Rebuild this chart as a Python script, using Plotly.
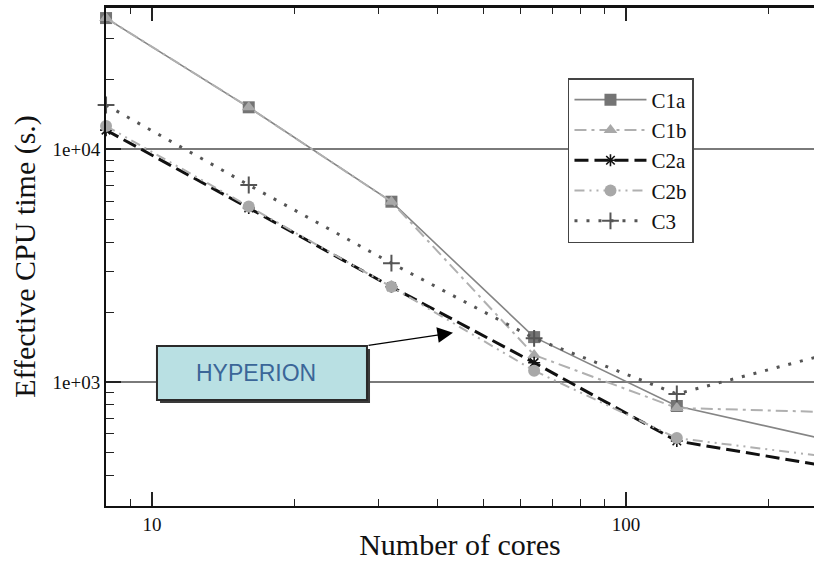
import plotly.graph_objects as go

cores = [8, 16, 32, 64, 128, 256]
series_names = ["C1a", "C1b", "C2a", "C2b", "C3"]
c1a = [36600, 15150, 5960, 1563, 791, 576]
c1b = [36600, 15150, 5960, 1310, 776, 747]
c2a = [12090, 5600, 2570, 1214, 560, 442]
c2b = [12590, 5680, 2570, 1122, 576, 484]
c3 = [15500, 7030, 3245, 1545, 891, 1294]
values = [c1a, c1b, c2a, c2b, c3]

y_major = [1000, 10000]
y_major_text = ["1e+03", "1e+04"]
y_minor = [400, 500, 600, 700, 800, 900, 2000, 3000, 4000, 5000, 6000, 7000, 8000, 9000, 20000, 30000]
x_major = [10, 100]
x_major_text = ["10", "100"]
x_minor = [9, 20, 30, 40, 50, 60, 70, 80, 90, 200]

styles = [
    dict(line=dict(color="#858585", width=1.6, dash="solid"),
         marker=dict(symbol="square", size=12, color="#747474")),
    dict(line=dict(color="#b0b0b0", width=2, dash="12px,5px,3px,5px"),
         marker=dict(symbol="triangle-up", size=12, color="#a8a8a8")),
    dict(line=dict(color="#111111", width=3, dash="14px,6px"),
         marker=dict(symbol="asterisk-open", size=10, color="#111111", line=dict(width=1.6, color="#111111"))),
    dict(line=dict(color="#b0b0b0", width=2, dash="10px,5px,2px,5px,2px,5px"),
         marker=dict(symbol="circle", size=12, color="#a8a8a8")),
    dict(line=dict(color="#555555", width=3, dash="3px,9px"),
         marker=dict(symbol="cross-thin-open", size=12, color="#555555", line=dict(width=2, color="#555555"))),
]

serif = "Liberation Serif"

fig = go.Figure()
for name, vals, st in zip(series_names, values, styles):
    fig.add_trace(go.Scatter(x=cores, y=vals, name=name, mode="lines+markers",
                             line=st["line"], marker=st["marker"], cliponaxis=False))

fig.update_layout(
    width=814, height=561,
    margin=dict(l=106, r=0, t=7, b=55),
    paper_bgcolor="white", plot_bgcolor="white",
    font=dict(family=serif, color="#111111"),
    legend=dict(x=0.6525, y=0.8577, xanchor="left", yanchor="top",
                bgcolor="white", bordercolor="#444444", borderwidth=1.5,
                font=dict(family=serif, size=21, color="#111111"),
                itemwidth=72, tracegroupgap=0),
    showlegend=True,
)

fig.update_xaxes(
    type="log", range=[0.903, 2.3966],
    tickmode="array", tickvals=x_major, ticktext=x_major_text,
    ticks="inside", ticklen=14, tickwidth=1.5, tickcolor="#222222",
    minor=dict(tickmode="array", tickvals=x_minor, ticks="inside", ticklen=7, tickwidth=1.2, tickcolor="#222222", showgrid=False),
    showline=True, linecolor="#111111", linewidth=2, mirror="ticks",
    showgrid=False, zeroline=False,
    tickfont=dict(family=serif, size=19, color="#111111"),
    title=dict(text="Number of cores", font=dict(family=serif, size=30, color="#111111"), standoff=4),
)
fig.update_yaxes(
    type="log", range=[2.469, 4.611],
    tickmode="array", tickvals=y_major, ticktext=y_major_text,
    ticks="inside", ticklen=15, tickwidth=1.5, tickcolor="#222222",
    minor=dict(tickmode="array", tickvals=y_minor, ticks="inside", ticklen=8, tickwidth=1.2, tickcolor="#222222", showgrid=False),
    showline=True, linecolor="#111111", linewidth=2, mirror=False,
    showgrid=True, gridcolor="#7a7a7a", gridwidth=1.5, zeroline=False,
    tickfont=dict(family=serif, size=19, color="#111111"),
    title=dict(text="Effective CPU time (s.)", font=dict(family=serif, size=30, color="#111111"), standoff=8),
)

# top frame line
fig.add_shape(type="line", xref="paper", yref="paper", x0=0, x1=1, y0=1, y1=1,
              line=dict(color="#111111", width=2), layer="above")

# HYPERION callout box with shadow
fig.add_shape(type="rect", xref="paper", yref="paper", x0=0.0763, x1=0.3729, y0=0.2064, y1=0.3146,
              fillcolor="#3a3a3a", line=dict(width=0), layer="above")
fig.add_shape(type="rect", xref="paper", yref="paper", x0=0.0720, x1=0.3686, y0=0.2124, y1=0.3206,
              fillcolor="#b9e0e3", line=dict(color="#2a2a2a", width=2), layer="above")
fig.add_annotation(xref="paper", yref="paper", x=0.2114, y=0.2665, xanchor="center", yanchor="middle",
                   text="HYPERION", showarrow=False,
                   font=dict(family="Liberation Sans, Arial, sans-serif", size=23, color="#3b6698"))
fig.add_annotation(xref="paper", yref="paper", x=0.4901, y=0.3473, text="", showarrow=True,
                   ax=-86, ay=13, arrowhead=2, arrowsize=2.4, arrowwidth=1.3, arrowcolor="#000000",
                   axref="pixel", ayref="pixel")

fig.write_html("out.html")
